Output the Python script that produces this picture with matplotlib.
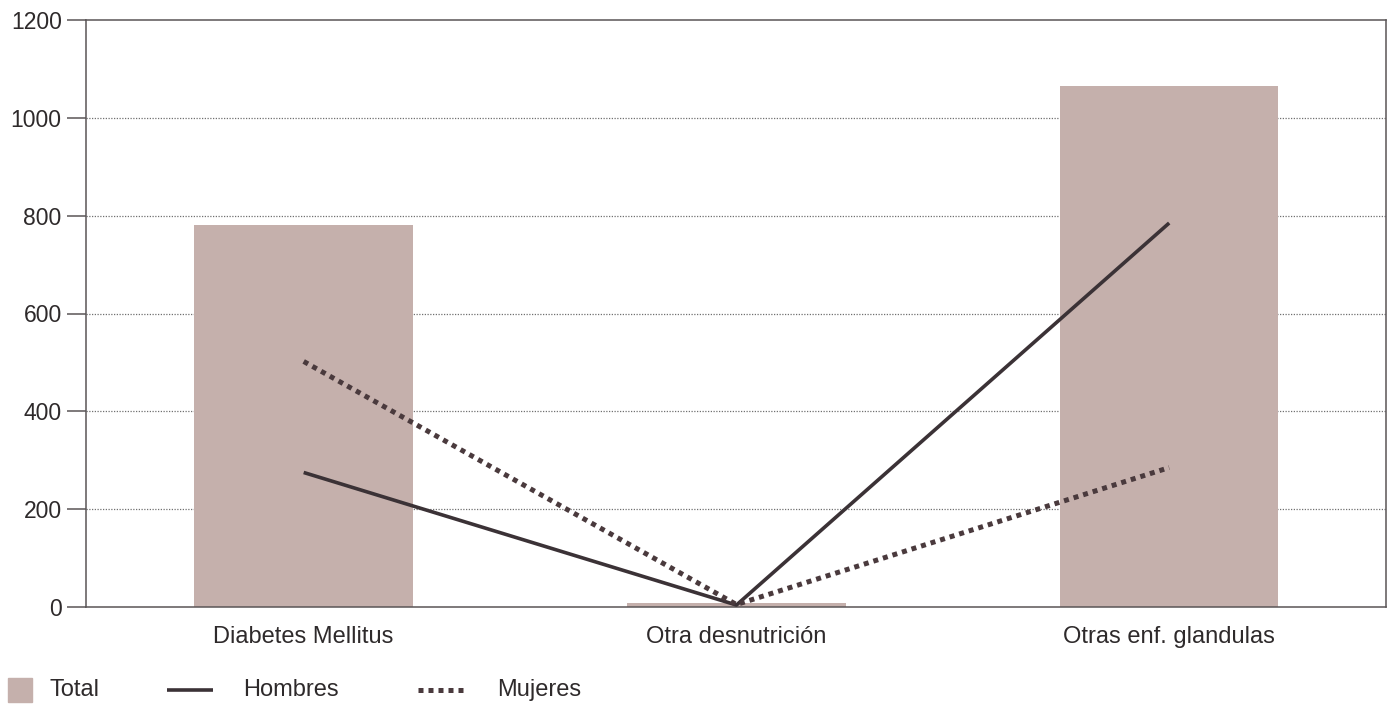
import matplotlib
matplotlib.use("Agg")
import matplotlib.pyplot as plt
from matplotlib.patches import Rectangle
from matplotlib.lines import Line2D

categories = ["Diabetes Mellitus", "Otra desnutrición", "Otras enf. glandulas"]
total = [780, 9, 1065]
hombres = [275, 4, 785]
mujeres = [502, 5, 285]
yticks = [0, 200, 400, 600, 800, 1000, 1200]
legend_labels = ["Total", "Hombres", "Mujeres"]

W, H = 1388, 709
plt.rcParams['font.family'] = ['Liberation Sans', 'DejaVu Sans']
fig = plt.figure(figsize=(W / 100, H / 100), dpi=100)
ax = fig.add_axes([86 / W, 1 - 607 / H, 1300 / W, 587 / H])

bar_color = "#c5b0ac"
line_color = "#3b3236"
dot_color = "#4a3a3d"
spine_color = "#5a5556"
text_color = "#2e2a2b"

x = list(range(len(categories)))
ax.bar(x, total, width=0.505, color=bar_color, zorder=2)
ax.plot(x, hombres, color=line_color, lw=2.6, solid_capstyle="butt", zorder=3)
ax.plot(x, mujeres, color=dot_color, lw=3.6, linestyle=(0, (1, 1)),
        dash_capstyle="butt", zorder=3)

ax.set_xlim(-0.503, 2.501)
ax.set_ylim(0, 1200)
ax.set_yticks(yticks)
ax.set_yticklabels([str(v) for v in yticks], fontsize=16.5, color=text_color)
ax.set_xticks(x)
ax.set_xticklabels(categories, fontsize=17, color=text_color)
ax.tick_params(axis="y", length=14, width=1.1, color=spine_color, pad=3.5)
ax.tick_params(axis="x", length=0, pad=14)

for v in yticks[1:-1]:
    ax.axhline(v, color="#707070", lw=0.9, linestyle=(0, (1, 1.2)), zorder=1)

for s in ax.spines.values():
    s.set_color(spine_color)
    s.set_linewidth(1.1)

# legend (drawn in figure pixel positions)
def fx(px):
    return px / W

def fy(py):
    return 1 - py / H

ly = 690
fig.add_artist(Rectangle((fx(8), fy(ly + 12)), 24 / W, 24 / H,
                         transform=fig.transFigure, color=bar_color))
fig.text(fx(50), fy(ly), legend_labels[0], fontsize=17, color=text_color,
         va="center", ha="left")
fig.add_artist(Line2D([fx(167), fx(213)], [fy(ly), fy(ly)], transform=fig.transFigure,
                      color=line_color, lw=2.6, solid_capstyle="butt"))
fig.text(fx(243), fy(ly), legend_labels[1], fontsize=17, color=text_color,
         va="center", ha="left")
fig.add_artist(Line2D([fx(418), fx(468)], [fy(ly), fy(ly)], transform=fig.transFigure,
                      color=dot_color, lw=3.6, linestyle=(0, (1, 1)),
                      dash_capstyle="butt"))
fig.text(fx(497), fy(ly), legend_labels[2], fontsize=17, color=text_color,
         va="center", ha="left")

fig.savefig("out.png", dpi=100)
